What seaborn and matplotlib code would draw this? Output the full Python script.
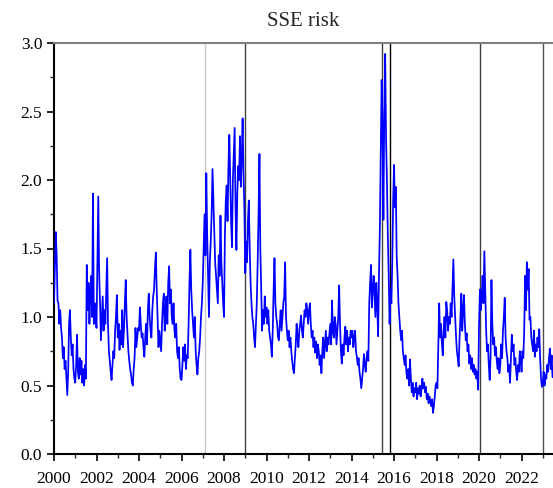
import numpy as np
import pandas as pd
import matplotlib
matplotlib.use("Agg")
import matplotlib.pyplot as plt
from matplotlib.ticker import MultipleLocator, FormatStrFormatter
import seaborn as sns

# ---- data: semi-monthly risk values (24 per year) ----
y2000 = [1.10, 1.35, 1.62, 1.45, 1.12, 1.10, 0.95, 1.05, 0.92, 0.85, 0.70, 0.78, 0.62, 0.68, 0.55, 0.43, 0.60, 0.95, 1.05, 0.85, 0.72, 0.80, 0.62, 0.55]
y2001 = [0.52, 0.65, 0.87, 0.60, 0.55, 0.70, 0.58, 0.68, 0.52, 0.62, 0.50, 0.65, 0.55, 1.38, 1.05, 1.25, 0.95, 1.15, 1.30, 1.00, 1.90, 0.95, 1.10, 1.00]
y2002 = [0.92, 1.40, 1.88, 1.32, 1.10, 0.83, 1.00, 1.15, 0.90, 1.05, 0.95, 1.20, 1.43, 0.95, 0.75, 0.68, 0.60, 0.54, 0.65, 0.75, 0.70, 0.90, 1.00, 1.16]
y2003 = [0.85, 0.95, 0.76, 0.90, 0.80, 1.05, 0.78, 0.90, 1.10, 1.27, 1.00, 0.88, 0.75, 0.68, 0.62, 0.58, 0.52, 0.50, 0.62, 0.70, 0.92, 0.78, 0.85, 0.92]
y2004 = [0.90, 1.07, 0.95, 0.85, 0.88, 0.78, 0.71, 0.85, 0.95, 0.80, 1.05, 1.17, 1.00, 0.90, 0.85, 1.05, 1.15, 1.20, 1.35, 1.47, 1.20, 1.00, 0.78, 0.90]
y2005 = [0.82, 0.75, 0.95, 1.10, 1.17, 0.90, 1.05, 1.15, 0.95, 1.25, 1.37, 1.10, 1.20, 1.00, 0.95, 1.10, 0.90, 0.85, 0.95, 0.75, 0.70, 0.78, 0.62, 0.55]
y2006 = [0.54, 0.65, 0.78, 0.68, 0.80, 0.62, 0.72, 0.70, 0.95, 1.25, 1.49, 1.20, 1.05, 0.95, 0.85, 1.00, 0.75, 0.65, 0.58, 0.70, 0.75, 0.85, 1.00, 1.10]
y2007 = [1.25, 1.50, 1.75, 1.45, 2.05, 1.60, 1.30, 1.00, 1.40, 1.55, 1.75, 2.08, 1.85, 1.60, 1.40, 1.30, 1.20, 1.10, 1.45, 1.30, 1.74, 1.40, 1.25, 1.10]
y2008 = [1.00, 1.60, 1.85, 1.96, 1.70, 2.10, 2.33, 2.00, 1.70, 1.51, 2.00, 2.20, 2.38, 1.80, 1.49, 1.90, 2.10, 2.00, 2.32, 1.95, 2.15, 2.45, 2.05, 1.78]
y2009 = [1.32, 1.55, 1.40, 1.70, 1.85, 1.50, 1.25, 1.10, 1.00, 0.95, 0.85, 0.78, 0.95, 1.10, 1.40, 1.75, 2.19, 1.50, 1.20, 0.90, 1.05, 0.95, 1.15, 1.00]
y2010 = [1.07, 0.95, 1.05, 0.90, 0.85, 0.80, 0.71, 0.90, 1.20, 1.43, 1.10, 1.00, 0.95, 0.85, 0.83, 0.95, 1.05, 0.90, 1.00, 1.10, 1.15, 1.40, 1.00, 0.90]
y2011 = [0.83, 0.90, 0.78, 0.85, 0.75, 0.68, 0.62, 0.59, 0.70, 0.80, 0.95, 0.85, 0.78, 0.90, 0.95, 1.01, 0.90, 0.85, 0.95, 1.05, 1.00, 1.10, 1.05, 0.95]
y2012 = [1.05, 1.10, 0.95, 0.85, 0.90, 0.78, 0.85, 0.74, 0.82, 0.70, 0.80, 0.75, 0.65, 0.72, 0.59, 0.75, 0.85, 0.70, 0.80, 0.90, 0.75, 0.85, 0.80, 0.88]
y2013 = [0.95, 0.80, 1.12, 0.90, 0.85, 1.00, 0.95, 0.80, 0.90, 1.00, 1.23, 0.95, 0.75, 0.66, 0.80, 0.72, 0.85, 0.93, 0.80, 0.90, 0.75, 0.85, 0.80, 0.90]
y2014 = [0.85, 0.90, 0.78, 0.85, 0.90, 0.75, 0.71, 0.65, 0.70, 0.60, 0.55, 0.48, 0.55, 0.62, 0.73, 0.65, 0.60, 0.70, 0.75, 0.68, 1.10, 1.25, 1.38, 1.07]
y2015 = [1.20, 1.30, 1.15, 1.00, 1.25, 1.10, 0.86, 1.30, 1.66, 2.20, 2.73, 2.40, 1.71, 2.50, 2.92, 2.30, 1.98, 1.59, 1.30, 0.95, 1.20, 1.10, 1.40, 1.85]
y2016 = [2.11, 1.80, 1.95, 1.44, 1.30, 1.10, 1.00, 0.90, 0.83, 0.90, 0.75, 0.70, 0.65, 0.72, 0.59, 0.55, 0.62, 0.50, 0.69, 0.55, 0.45, 0.52, 0.42, 0.48]
y2017 = [0.45, 0.52, 0.40, 0.48, 0.44, 0.50, 0.42, 0.47, 0.55, 0.48, 0.52, 0.45, 0.49, 0.40, 0.44, 0.37, 0.42, 0.38, 0.35, 0.40, 0.30, 0.35, 0.42, 0.50]
y2018 = [0.52, 0.48, 0.81, 1.10, 0.85, 0.95, 0.81, 0.72, 0.90, 1.00, 0.85, 1.11, 1.05, 0.90, 1.00, 0.95, 1.10, 1.00, 1.20, 1.42, 1.15, 1.00, 0.86, 0.75]
y2019 = [0.70, 0.64, 0.85, 1.00, 1.17, 0.90, 1.05, 1.16, 0.95, 0.83, 0.88, 0.75, 0.80, 0.66, 0.72, 0.62, 0.70, 0.60, 0.65, 0.58, 0.62, 0.55, 0.60, 0.47]
y2020 = [0.95, 1.20, 1.05, 1.15, 1.30, 1.10, 1.48, 1.20, 0.91, 0.75, 0.80, 0.65, 0.54, 0.70, 1.27, 0.95, 0.80, 0.85, 0.72, 0.78, 0.68, 0.62, 0.70, 0.59]
y2021 = [0.65, 0.80, 0.70, 0.90, 1.00, 1.14, 0.85, 0.75, 0.70, 0.60, 0.65, 0.52, 0.70, 0.87, 0.75, 0.80, 0.65, 0.70, 0.60, 0.54, 0.65, 0.60, 0.75, 0.70]
y2022 = [0.60, 0.75, 0.70, 0.90, 1.30, 1.05, 1.40, 1.20, 1.35, 0.98, 1.00, 0.85, 0.80, 0.75, 0.90, 0.71, 0.80, 0.75, 0.85, 0.78, 0.91, 0.70, 0.55, 0.49]
y2023 = [0.52, 0.60, 0.50, 0.58, 0.55, 0.65, 0.60, 0.70, 0.77, 0.62, 0.72, 0.56]

event_years = [2007.1, 2009.0, 2015.45, 2015.83, 2020.06, 2023.0]
event_colors = ["#c8c8c8", "#404040", "#404040", "#000000", "#404040", "#505050"]

title = "SSE risk"
y_ticks = [0.0, 0.5, 1.0, 1.5, 2.0, 2.5, 3.0]
x_ticks = list(range(2000, 2023, 2))

values = (y2000 + y2001 + y2002 + y2003 + y2004 + y2005 + y2006 + y2007 + y2008
          + y2009 + y2010 + y2011 + y2012 + y2013 + y2014 + y2015 + y2016 + y2017
          + y2018 + y2019 + y2020 + y2021 + y2022 + y2023)
time = 2000 + np.arange(len(values)) / 24.0
df = pd.DataFrame({"year": time, "risk": values})

sns.set_theme(style="ticks")
plt.rcParams["font.family"] = ["Liberation Serif", "DejaVu Serif"]

fig = plt.figure(figsize=(5.53, 4.88), dpi=100)
ax = fig.add_axes([54 / 553, 1 - 454 / 488, 1 - 54 / 553, (454 - 43) / 488])

for xv, c in zip(event_years, event_colors):
    ax.axvline(xv, color=c, lw=1.0, zorder=1)

sns.lineplot(data=df, x="year", y="risk", ax=ax, color="#0000ff", lw=1.25, zorder=3)

ax.set_xlim(2000, 2023.48)
ax.set_ylim(0, 3.0)
ax.set_xticks(x_ticks)
ax.set_xticklabels([str(v) for v in x_ticks])
ax.xaxis.set_minor_locator(MultipleLocator(1))
ax.set_yticks(y_ticks)
ax.yaxis.set_major_formatter(FormatStrFormatter("%.1f"))
ax.yaxis.set_minor_locator(MultipleLocator(0.25))
ax.set_xlabel("")
ax.set_ylabel("")
ax.set_title(title, fontsize=15, pad=12)

ax.tick_params(which="major", direction="out", length=5, width=1.2, labelsize=12.5, colors="black")
ax.tick_params(axis="x", which="major", pad=7)
ax.tick_params(which="minor", direction="out", length=3, width=1.0)
ax.tick_params(axis="x", which="both", top=False)
ax.tick_params(axis="y", which="both", right=False)

ax.spines["left"].set_color("black")
ax.spines["left"].set_linewidth(1.5)
ax.spines["bottom"].set_color("black")
ax.spines["bottom"].set_linewidth(1.5)
ax.spines["top"].set_visible(True)
ax.spines["top"].set_color("#808080")
ax.spines["top"].set_linewidth(1.5)
ax.spines["right"].set_visible(False)

fig.savefig("out.png", dpi=100)
